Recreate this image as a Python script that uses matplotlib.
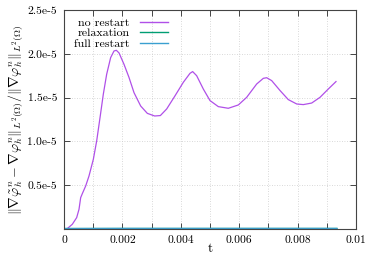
import matplotlib
matplotlib.use("Agg")
import matplotlib.pyplot as plt
from matplotlib.ticker import MultipleLocator, FixedLocator

t_norestart = [0.0, 0.000114, 0.000285, 0.000434, 0.000514, 0.000571, 0.000628, 0.000742,
               0.000856, 0.001005, 0.001119, 0.001233, 0.001347, 0.001461, 0.001598,
               0.001712, 0.001792, 0.001884, 0.002055, 0.002226, 0.002397, 0.002626,
               0.002854, 0.003105, 0.003300, 0.003516, 0.003801, 0.004087, 0.004315,
               0.004406, 0.004543, 0.004771, 0.005000, 0.005285, 0.005627, 0.005970,
               0.006256, 0.006598, 0.006826, 0.006941, 0.007112, 0.007400, 0.007682,
               0.007970, 0.008196, 0.008483, 0.008767, 0.009051, 0.009315]
v_norestart = [0.0, 0.05e-6, 0.54e-6, 1.30e-6, 2.25e-6, 3.58e-6, 4.04e-6, 4.91e-6,
               6.05e-6, 7.96e-6, 10.05e-6, 12.7e-6, 15.4e-6, 17.66e-6, 19.57e-6,
               20.32e-6, 20.4e-6, 20.1e-6, 18.8e-6, 17.3e-6, 15.57e-6, 14.04e-6,
               13.2e-6, 12.9e-6, 12.95e-6, 13.7e-6, 15.2e-6, 16.75e-6, 17.77e-6,
               17.97e-6, 17.5e-6, 15.98e-6, 14.66e-6, 13.97e-6, 13.78e-6, 14.16e-6,
               15.03e-6, 16.55e-6, 17.2e-6, 17.27e-6, 16.94e-6, 15.8e-6, 14.77e-6,
               14.27e-6, 14.2e-6, 14.38e-6, 15.03e-6, 15.98e-6, 16.83e-6]
t_relax = [0.0, 0.002, 0.004, 0.006, 0.008, 0.00933]
v_relax = [0.0, 1e-8, 1e-8, 1e-8, 1e-8, 1e-8]
t_full = [0.0, 0.002, 0.004, 0.006, 0.008, 0.00933]
v_full = [0.0, 1e-8, 1e-8, 1e-8, 1e-8, 1e-8]

series_labels = ["no restart", "relaxation", "full restart"]
ytick_vals = [0.5e-5, 1.0e-5, 1.5e-5, 2.0e-5, 2.5e-5]
ytick_labels = ["0.5e-5", "1.0e-5", "1.5e-5", "2.0e-5", "2.5e-5"]
xtick_vals = [0, 0.002, 0.004, 0.006, 0.008, 0.01]
xtick_labels = ["0", "0.002", "0.004", "0.006", "0.008", "0.01"]

plt.rcParams['font.family'] = ['cmr10', 'DejaVu Serif']
plt.rcParams['mathtext.fontset'] = 'cm'

fig = plt.figure(figsize=(3.73, 2.61), dpi=100)
ax = fig.add_axes([64/373, 32/261, 292/373, 219/261])

ax.plot(t_norestart, v_norestart, color='#b050e8', lw=0.9, label=series_labels[0])
ax.plot(t_relax, v_relax, color='#009e73', lw=1.6, label=series_labels[1])
ax.plot(t_full, v_full, color='#3a9fd0', lw=1.6, label=series_labels[2])

ax.set_xlim(0, 0.01)
ax.set_ylim(0, 2.5e-5)
ax.xaxis.set_major_locator(FixedLocator(xtick_vals))
ax.set_xticklabels(xtick_labels)
ax.xaxis.set_minor_locator(MultipleLocator(0.001))
ax.yaxis.set_major_locator(FixedLocator(ytick_vals))
ax.set_yticklabels(ytick_labels)
ax.tick_params(which='both', direction='in', top=True, right=True, labelsize=8.3,
               length=4.5, width=0.7, color='#444444', pad=5)
ax.grid(which='both', axis='x', color='#cccccc', ls=(0, (1, 2)), lw=0.6)
ax.grid(which='major', axis='y', color='#cccccc', ls=(0, (1, 2)), lw=0.6)
for s in ax.spines.values():
    s.set_linewidth(0.8)
    s.set_color('#444444')

ax.set_xlabel('t', fontsize=9.5, labelpad=-2)
ax.set_ylabel(r'$\|\nabla\tilde{\varphi}_h^n-\nabla\varphi_h^n\|_{L^2(\Omega)}/\|\nabla\varphi_h^n\|_{L^2(\Omega)}$',
              fontsize=10, labelpad=2)

leg = ax.legend(loc='upper left', bbox_to_anchor=(0.035, 0.965), frameon=False, fontsize=8.6,
                markerfirst=False, handlelength=2.3, handletextpad=0.9,
                labelspacing=0.0, borderaxespad=0, borderpad=0)
for txt in leg.get_texts():
    txt.set_ha('right')
for ln in leg.get_lines():
    ln.set_linewidth(1.0)

fig.savefig('out.png', dpi=100)
